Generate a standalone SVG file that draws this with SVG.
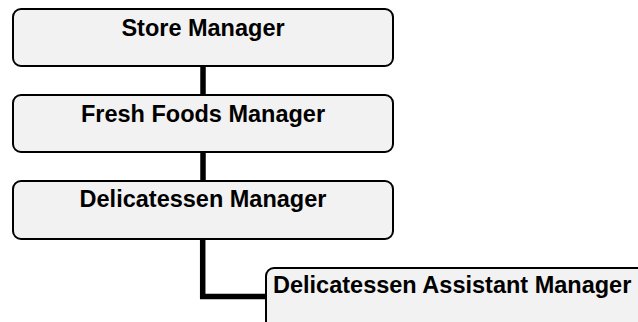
<svg xmlns="http://www.w3.org/2000/svg" width="638" height="322" viewBox="0 0 638 322">
<style>
.box{fill:#f2f2f2;stroke:#000;stroke-width:2}
.lbl{font-family:"Liberation Sans",Arial,sans-serif;font-weight:bold;font-size:23.5px;fill:#000}
.c{text-anchor:middle}
.conn{fill:none;stroke:#000;stroke-width:5.5}
</style>
<rect width="638" height="322" fill="#fff"/>
<g id="connectors">
<line class="conn" x1="203" y1="66" x2="203" y2="95"/>
<line class="conn" x1="203" y1="152" x2="203" y2="181"/>
<polyline class="conn" points="202.7,239 202.7,296.5 266,296.5"/>
</g>
<g id="store-manager">
<rect class="box" x="13" y="9" width="380" height="57" rx="8"/>
<text class="lbl c" x="203" y="36">Store Manager</text>
</g>
<g id="fresh-foods-manager">
<rect class="box" x="13" y="95" width="380" height="57" rx="8"/>
<text class="lbl c" x="203" y="122">Fresh Foods Manager</text>
</g>
<g id="delicatessen-manager">
<rect class="box" x="13" y="181" width="380" height="58" rx="8"/>
<text class="lbl c" x="203" y="207">Delicatessen Manager</text>
</g>
<g id="delicatessen-assistant-manager">
<rect class="box" x="266" y="268" width="400" height="80" rx="8"/>
<text class="lbl" x="273" y="293">Delicatessen Assistant Manager</text>
</g>
</svg>
